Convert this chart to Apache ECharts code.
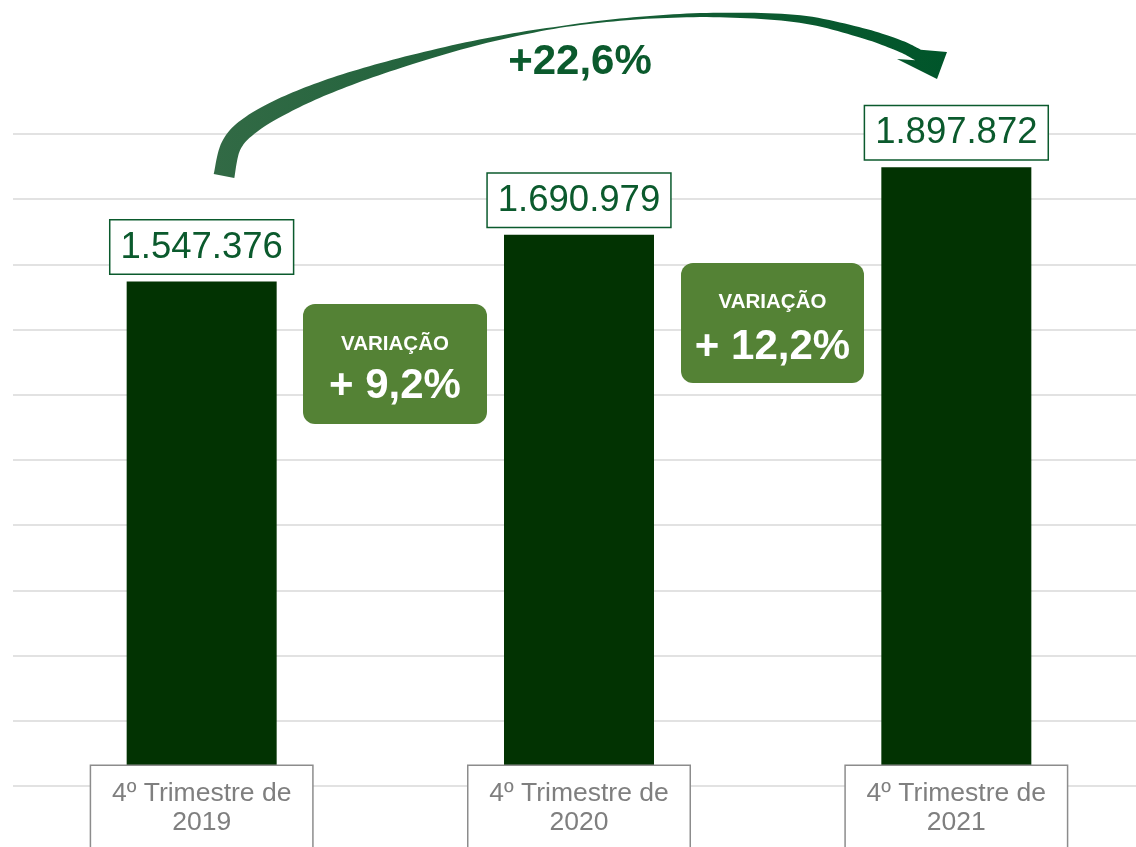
<!DOCTYPE html>
<html>
<head>
<meta charset="utf-8">
<script src="https://cdn.jsdelivr.net/npm/echarts@6/dist/echarts.min.js"></script>
<style>
html,body{margin:0;padding:0;background:#fff;}
#chart{width:1136px;height:847px;}
</style>
</head>
<body>
<div id="chart"></div>
<script>
// ---- data ----
var categories = ['4º Trimestre de\n2019', '4º Trimestre de\n2020', '4º Trimestre de\n2021'];
var values = [1547376, 1690979, 1897872];
var variationTitle = 'VARIAÇÃO';
var variations = ['+ 9,2%', '+ 12,2%'];
var totalVariation = '+22,6%';
var axisMin = 0, axisMax = 2000000, axisInterval = 200000;

var FONT = '"Liberation Sans", Arial, sans-serif';
function fmt(v) { return String(v).replace(/\B(?=(\d{3})+(?!\d))/g, '.'); }

// ---- arrow geometry (annotation) ----
var center = [[224,176],[231,146],[249,126],[285,105],[335,84],[400,63],[480,42],[560,27],[640,18],[720,15],[800,19],[862,33],[900,46],[918,55]];
var widths = [21,20,19,17,14,10,5,1.5,2.5,4.5,7.5,10,11.5,12];
function catmull(pts, ws, steps) {
  var out = [], wout = [];
  for (var i = 0; i < pts.length - 1; i++) {
    var p0 = pts[Math.max(i-1,0)], p1 = pts[i], p2 = pts[i+1], p3 = pts[Math.min(i+2, pts.length-1)];
    for (var s = 0; s < steps; s++) {
      var t = s / steps, t2 = t*t, t3 = t2*t;
      var x = 0.5*((2*p1[0]) + (-p0[0]+p2[0])*t + (2*p0[0]-5*p1[0]+4*p2[0]-p3[0])*t2 + (-p0[0]+3*p1[0]-3*p2[0]+p3[0])*t3);
      var y = 0.5*((2*p1[1]) + (-p0[1]+p2[1])*t + (2*p0[1]-5*p1[1]+4*p2[1]-p3[1])*t2 + (-p0[1]+3*p1[1]-3*p2[1]+p3[1])*t3);
      out.push([x,y]); wout.push(ws[i] + (ws[i+1]-ws[i])*t);
    }
  }
  out.push(pts[pts.length-1]); wout.push(ws[ws.length-1]);
  return [out, wout];
}
var sm = catmull(center, widths, 12);
var cp = sm[0], cw = sm[1];
var upper = [], lower = [];
for (var i = 0; i < cp.length; i++) {
  var a = cp[Math.max(i-1,0)], b = cp[Math.min(i+1,cp.length-1)];
  var dx = b[0]-a[0], dy = b[1]-a[1], L = Math.sqrt(dx*dx+dy*dy) || 1;
  var nx = -dy/L, ny = dx/L, h = cw[i]/2;
  upper.push([cp[i][0]-nx*h, cp[i][1]-ny*h]);
  lower.push([cp[i][0]+nx*h, cp[i][1]+ny*h]);
}
var arrowPts = upper.concat([[947,52],[937,79],[897,59]]).concat(lower.reverse());

var ZT = 100;
var chart = echarts.init(document.getElementById('chart'));
chart.setOption({
  animation: false,
  backgroundColor: '#ffffff',
  grid: { left: 13, right: -9, top: 134, bottom: 61, containLabel: false, outerBoundsMode: 'none' },
  xAxis: {
    type: 'category',
    data: categories,
    axisLine: { show: false },
    axisTick: { show: false },
    axisLabel: {
      interval: 0,
      margin: -20,
      color: '#7f7f7f',
      fontFamily: FONT,
      fontSize: 26.5,
      lineHeight: 29,
      width: 201,
      align: 'center',
      padding: [13, 10, 30, 10],
      backgroundColor: '#ffffff',
      borderColor: '#8c8c8c',
      borderWidth: 1.5
    },
    z: 10
  },
  yAxis: {
    type: 'value',
    min: axisMin, max: axisMax, interval: axisInterval,
    axisLabel: { show: false },
    axisLine: { show: false },
    axisTick: { show: false },
    splitLine: { lineStyle: { color: '#d9d9d9', width: 1.5 } }
  },
  series: [{
    type: 'bar',
    data: values,
    barWidth: 150,
    itemStyle: { color: '#023302' },
    label: {
      show: true,
      position: 'top',
      distance: 8,
      formatter: function (p) { return fmt(p.value); },
      fontFamily: FONT,
      fontSize: 36.5,
      lineHeight: 42,
      color: '#0b5a2d',
      backgroundColor: '#ffffff',
      borderColor: '#0b5a2d',
      borderWidth: 1.5,
      padding: [6, 10, 5, 10]
    }
  }],
  graphic: [
    {
      type: 'polygon', z: ZT,
      shape: { points: arrowPts },
      style: {
        fill: new echarts.graphic.LinearGradient(213, 0, 947, 0, [
          { offset: 0, color: '#326a45' },
          { offset: 1, color: '#00552a' }
        ], true)
      }
    },
    {
      type: 'text', x: 580, y: 62, z: ZT,
      style: { text: totalVariation, fill: '#0b5a2d', font: 'bold 42px ' + FONT, align: 'center', verticalAlign: 'middle' }
    },
    { type: 'rect', z: ZT, shape: { x: 303, y: 304, width: 184, height: 120, r: 12 }, style: { fill: '#548235' } },
    { type: 'text', z: ZT + 1, x: 395, y: 344, style: { text: variationTitle, fill: '#ffffff', font: 'bold 20.5px ' + FONT, align: 'center', verticalAlign: 'middle' } },
    { type: 'text', z: ZT + 1, x: 395, y: 386, style: { text: variations[0], fill: '#ffffff', font: 'bold 42px ' + FONT, align: 'center', verticalAlign: 'middle' } },
    { type: 'rect', z: ZT, shape: { x: 681, y: 263, width: 183, height: 120, r: 12 }, style: { fill: '#548235' } },
    { type: 'text', z: ZT + 1, x: 772.5, y: 302, style: { text: variationTitle, fill: '#ffffff', font: 'bold 20.5px ' + FONT, align: 'center', verticalAlign: 'middle' } },
    { type: 'text', z: ZT + 1, x: 772.5, y: 347, style: { text: variations[1], fill: '#ffffff', font: 'bold 42px ' + FONT, align: 'center', verticalAlign: 'middle' } }
  ]
});
</script>
</body>
</html>
